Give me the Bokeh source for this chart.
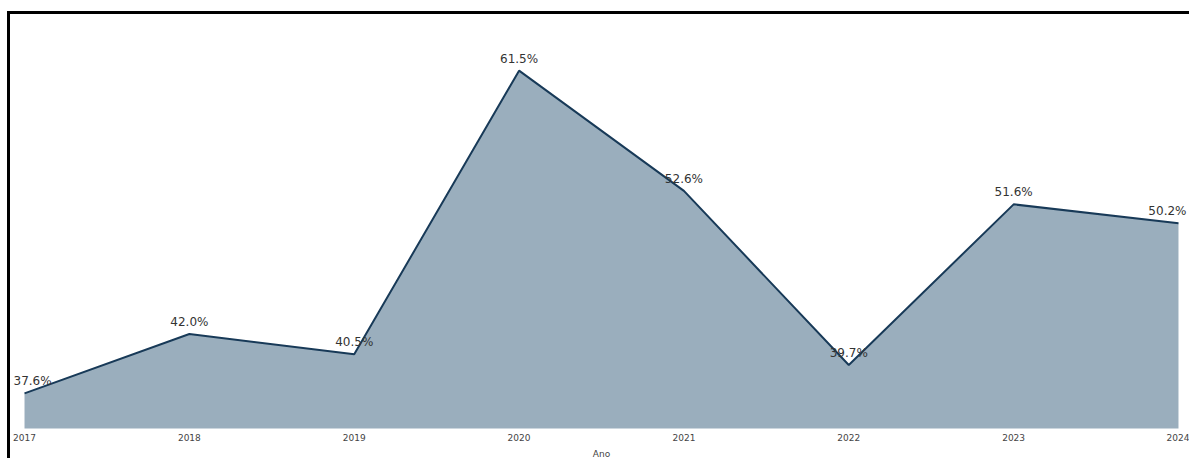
from bokeh.plotting import figure
from bokeh.models import ColumnDataSource, Range1d, FixedTicker
from bokeh.core.properties import value
from bokeh.embed import file_html
from bokeh.resources import INLINE

# ---- data ----
years = [2017, 2018, 2019, 2020, 2021, 2022, 2023, 2024]
rates = [37.6, 42.0, 40.5, 61.5, 52.6, 39.7, 51.6, 50.2]
rate_labels = ["37.6%", "42.0%", "40.5%", "61.5%", "52.6%", "39.7%", "51.6%", "50.2%"]
x_title = "Ano"

FILL = "#9aaebd"
LINE = "#183a58"
FONT = "DejaVu Sans"

n = len(years)
align = ["left"] + ["center"] * (n - 2) + ["right"]
xoff = [-11] + [0] * (n - 2) + [8]

src = ColumnDataSource(dict(x=years, y=rates, base=[0] * n, lab=rate_labels,
                            align=align, xoff=xoff))

p = figure(width=1182, height=447, output_backend="svg", toolbar_location=None,
           x_range=Range1d(2016.915, 2024.085), y_range=Range1d(35.0, 65.66),
           y_axis_location=None,
           min_border_left=0, min_border_right=0, min_border_top=0, min_border_bottom=0,
           background_fill_color="white", border_fill_color="white",
           styles={"border-left": "3px solid #000", "border-top": "3px solid #000",
                   "margin-top": "11px", "margin-left": "7px"})
p.outline_line_color = None
p.xgrid.grid_line_color = None
p.ygrid.grid_line_color = None

p.varea(x="x", y1="base", y2="y", source=src, fill_color=FILL, fill_alpha=1.0)
p.line(x="x", y="y", source=src, line_color=LINE, line_width=2)
p.text(x="x", y="y", text="lab", source=src, text_align="align", x_offset="xoff",
       y_offset=-5, text_baseline="bottom", text_font=value(FONT),
       text_font_size="12px", text_color="#333333")

ax = p.xaxis[0]
ax.ticker = FixedTicker(ticks=years)
ax.major_label_overrides = {y: str(y) for y in years}
ax.axis_line_color = None
ax.major_tick_line_color = None
ax.minor_tick_line_color = None
ax.major_tick_out = 0
ax.major_tick_in = 0
ax.major_label_standoff = 5
ax.major_label_text_font = FONT
ax.major_label_text_font_size = "9px"
ax.major_label_text_color = "#444444"
ax.axis_label = x_title
ax.axis_label_standoff = 5
ax.axis_label_text_font = FONT
ax.axis_label_text_font_size = "9px"
ax.axis_label_text_font_style = "normal"
ax.axis_label_text_color = "#444444"

open("out.html", "w").write(file_html(p, INLINE))
